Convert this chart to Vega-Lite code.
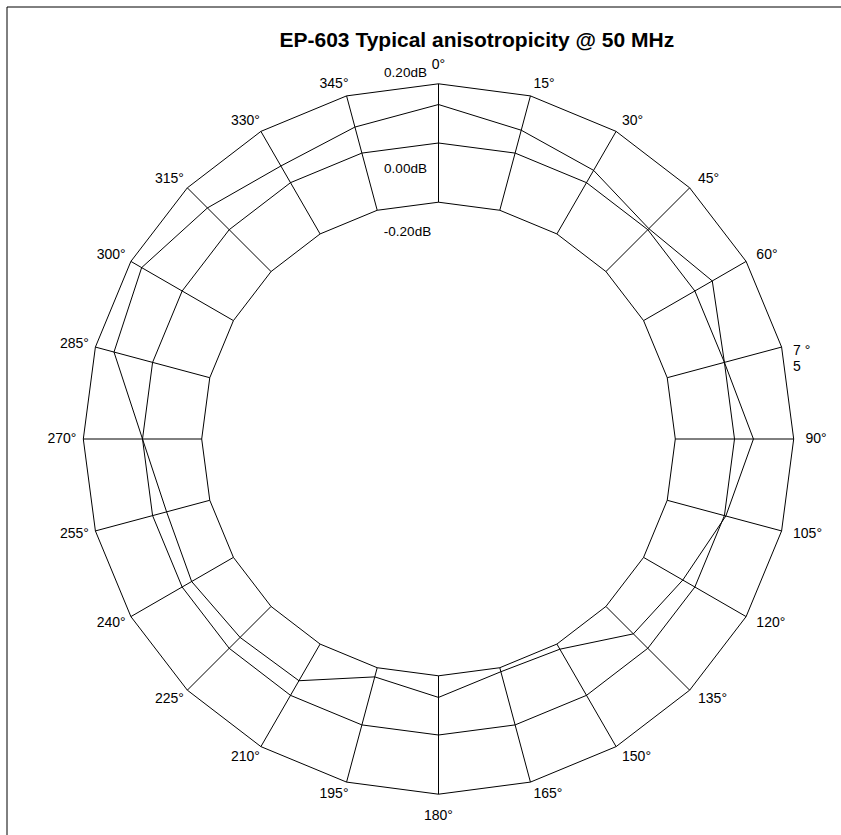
{
  "$schema": "https://vega.github.io/schema/vega-lite/v6.json",
  "description": "Polar plot of the EP-603 sensitivity deviation (dB) against rotation angle, drawn as polygons: grid rings at -0.20, 0.00 and 0.20 dB, spokes every 15 degrees, and the measured pattern.",
  "autosize": "none",
  "padding": {"left": 6.5, "top": 6.5, "right": 0, "bottom": 0},
  "width": 840,
  "height": 834,
  "background": "white",
  "config": {
    "view": {"stroke": "black", "strokeWidth": 1},
    "text": {"font": "Liberation Sans", "color": "black"}
  },
  "title": {
    "text": "EP-603 Typical anisotropicity @ 50 MHz",
    "anchor": "start",
    "frame": "group",
    "dx": 273,
    "offset": -61,
    "baseline": "alphabetic",
    "font": "Liberation Sans",
    "fontSize": 21,
    "fontWeight": "bold",
    "color": "black"
  },
  "datasets": {
    "pattern": [
      {"angle": 0, "dB": 0.13},
      {"angle": 15, "dB": 0.08},
      {"angle": 30, "dB": 0.048},
      {"angle": 45, "dB": 0.005},
      {"angle": 60, "dB": 0.068},
      {"angle": 75, "dB": 0.0},
      {"angle": 90, "dB": 0.064},
      {"angle": 105, "dB": 0.005},
      {"angle": 120, "dB": -0.047},
      {"angle": 135, "dB": -0.069},
      {"angle": 150, "dB": -0.18},
      {"angle": 165, "dB": -0.186},
      {"angle": 180, "dB": -0.127},
      {"angle": 195, "dB": -0.168},
      {"angle": 210, "dB": -0.057},
      {"angle": 225, "dB": -0.052},
      {"angle": 240, "dB": -0.037},
      {"angle": 255, "dB": -0.049},
      {"angle": 270, "dB": 0.0},
      {"angle": 285, "dB": 0.135},
      {"angle": 300, "dB": 0.158},
      {"angle": 315, "dB": 0.104},
      {"angle": 330, "dB": 0.065},
      {"angle": 345, "dB": 0.091}
    ],
    "spokes": [
      {"angle": 0, "label": "0°"},
      {"angle": 15, "label": "15°"},
      {"angle": 30, "label": "30°"},
      {"angle": 45, "label": "45°"},
      {"angle": 60, "label": "60°"},
      {"angle": 75, "label": "7   °\n5"},
      {"angle": 90, "label": "90°"},
      {"angle": 105, "label": "105°"},
      {"angle": 120, "label": "120°"},
      {"angle": 135, "label": "135°"},
      {"angle": 150, "label": "150°"},
      {"angle": 165, "label": "165°"},
      {"angle": 180, "label": "180°"},
      {"angle": 195, "label": "195°"},
      {"angle": 210, "label": "210°"},
      {"angle": 225, "label": "225°"},
      {"angle": 240, "label": "240°"},
      {"angle": 255, "label": "255°"},
      {"angle": 270, "label": "270°"},
      {"angle": 285, "label": "285°"},
      {"angle": 300, "label": "300°"},
      {"angle": 315, "label": "315°"},
      {"angle": 330, "label": "330°"},
      {"angle": 345, "label": "345°"}
    ],
    "levels": [
      {"level": 0.2, "text": "0.20dB"},
      {"level": 0.0, "text": "0.00dB"},
      {"level": -0.2, "text": "-0.20dB"}
    ]
  },
  "encoding": {
    "x": {
      "field": "px",
      "type": "quantitative",
      "scale": {"domain": [-1.459459, 1.378378], "nice": false, "zero": false},
      "axis": null
    },
    "y": {
      "field": "py",
      "type": "quantitative",
      "scale": {"domain": [-1.356419, 1.461149], "nice": false, "zero": false},
      "axis": null
    }
  },
  "layer": [
    {
      "description": "Grid rings: one closed polygon per dB level (radius = 1 + dB).",
      "data": {"name": "spokes"},
      "transform": [
        {"calculate": "[-0.2, 0, 0.2]", "as": "level"},
        {"flatten": ["level"]},
        {"calculate": "(1 + datum.level) * sin(datum.angle * PI / 180)", "as": "px"},
        {"calculate": "(1 + datum.level) * cos(datum.angle * PI / 180)", "as": "py"}
      ],
      "mark": {"type": "line", "interpolate": "linear-closed", "color": "black", "strokeWidth": 1},
      "encoding": {
        "detail": {"field": "level", "type": "nominal"},
        "order": {"field": "angle", "type": "quantitative"}
      }
    },
    {
      "description": "Spokes from the -0.20 dB ring to the 0.20 dB ring.",
      "data": {"name": "spokes"},
      "transform": [
        {"calculate": "(1 - 0.2) * sin(datum.angle * PI / 180)", "as": "px"},
        {"calculate": "(1 - 0.2) * cos(datum.angle * PI / 180)", "as": "py"},
        {"calculate": "(1 + 0.2) * sin(datum.angle * PI / 180)", "as": "px2"},
        {"calculate": "(1 + 0.2) * cos(datum.angle * PI / 180)", "as": "py2"}
      ],
      "mark": {"type": "rule", "color": "black", "strokeWidth": 1},
      "encoding": {
        "x2": {"field": "px2"},
        "y2": {"field": "py2"}
      }
    },
    {
      "description": "Measured pattern.",
      "data": {"name": "pattern"},
      "transform": [
        {"calculate": "(1 + datum.dB) * sin(datum.angle * PI / 180)", "as": "px"},
        {"calculate": "(1 + datum.dB) * cos(datum.angle * PI / 180)", "as": "py"}
      ],
      "mark": {"type": "line", "interpolate": "linear-closed", "color": "black", "strokeWidth": 1},
      "encoding": {
        "order": {"field": "angle", "type": "quantitative"}
      }
    },
    {
      "description": "Angle label above the top spoke.",
      "data": {"name": "spokes"},
      "transform": [
        {"filter": "datum.angle == 0"},
        {"calculate": "1.24 * sin(datum.angle * PI / 180)", "as": "px"},
        {"calculate": "1.24 * cos(datum.angle * PI / 180)", "as": "py"}
      ],
      "mark": {"type": "text", "align": "center", "baseline": "bottom", "fontSize": 14},
      "encoding": {"text": {"field": "label"}}
    },
    {
      "description": "Angle label below the bottom spoke.",
      "data": {"name": "spokes"},
      "transform": [
        {"filter": "datum.angle == 180"},
        {"calculate": "1.24 * sin(datum.angle * PI / 180)", "as": "px"},
        {"calculate": "1.24 * cos(datum.angle * PI / 180)", "as": "py"}
      ],
      "mark": {"type": "text", "align": "center", "baseline": "top", "dy": 3, "fontSize": 14},
      "encoding": {"text": {"field": "label"}}
    },
    {
      "description": "Angle labels on the right half.",
      "data": {"name": "spokes"},
      "transform": [
        {"filter": "datum.angle > 0 && datum.angle < 180 && datum.angle != 75"},
        {"calculate": "1.24 * sin(datum.angle * PI / 180)", "as": "px"},
        {"calculate": "1.24 * cos(datum.angle * PI / 180)", "as": "py"}
      ],
      "mark": {"type": "text", "align": "left", "baseline": "middle", "fontSize": 14},
      "encoding": {"text": {"field": "label"}}
    },
    {
      "description": "The 75 degree label, wrapped onto two lines.",
      "data": {"name": "spokes"},
      "transform": [
        {"filter": "datum.angle == 75"},
        {"calculate": "1.24 * sin(datum.angle * PI / 180)", "as": "px"},
        {"calculate": "1.24 * cos(datum.angle * PI / 180)", "as": "py"}
      ],
      "mark": {"type": "text", "align": "left", "baseline": "top", "lineBreak": "\n", "lineHeight": 16, "fontSize": 14},
      "encoding": {"text": {"field": "label"}}
    },
    {
      "description": "Angle labels on the left half.",
      "data": {"name": "spokes"},
      "transform": [
        {"filter": "datum.angle > 180"},
        {"calculate": "1.24 * sin(datum.angle * PI / 180)", "as": "px"},
        {"calculate": "1.24 * cos(datum.angle * PI / 180)", "as": "py"}
      ],
      "mark": {"type": "text", "align": "right", "baseline": "middle", "dx": 5, "fontSize": 14},
      "encoding": {"text": {"field": "label"}}
    },
    {
      "description": "Level label for the outer ring.",
      "data": {"name": "levels"},
      "transform": [
        {"filter": "datum.level == 0.2"},
        {"calculate": "0", "as": "px"},
        {"calculate": "1 + datum.level", "as": "py"}
      ],
      "mark": {"type": "text", "align": "center", "baseline": "middle", "dx": -33, "dy": -11, "fontSize": 13.5},
      "encoding": {"text": {"field": "text"}}
    },
    {
      "description": "Level label for the middle ring.",
      "data": {"name": "levels"},
      "transform": [
        {"filter": "datum.level == 0"},
        {"calculate": "0", "as": "px"},
        {"calculate": "1 + datum.level", "as": "py"}
      ],
      "mark": {"type": "text", "align": "center", "baseline": "middle", "dx": -33, "dy": 26, "fontSize": 13.5},
      "encoding": {"text": {"field": "text"}}
    },
    {
      "description": "Level label for the inner ring.",
      "data": {"name": "levels"},
      "transform": [
        {"filter": "datum.level == -0.2"},
        {"calculate": "0", "as": "px"},
        {"calculate": "1 + datum.level", "as": "py"}
      ],
      "mark": {"type": "text", "align": "center", "baseline": "middle", "dx": -31, "dy": 30, "fontSize": 13.5},
      "encoding": {"text": {"field": "text"}}
    }
  ]
}
